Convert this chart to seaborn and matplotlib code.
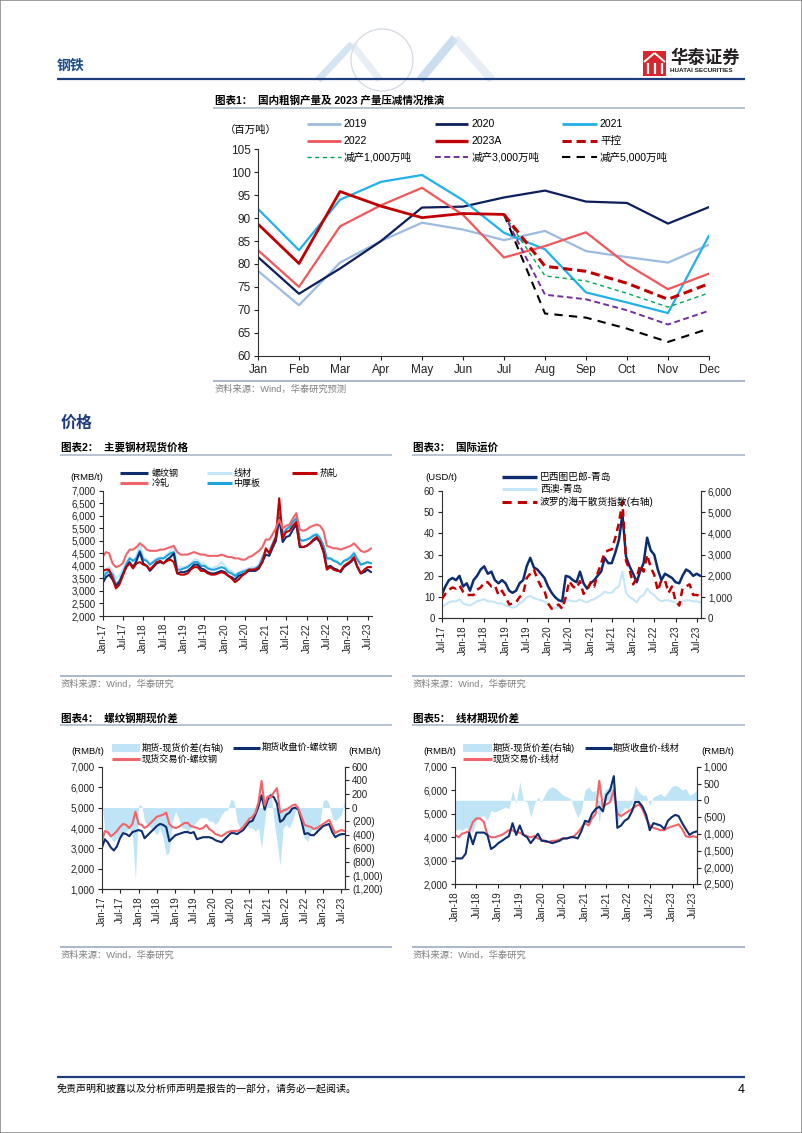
import numpy as np
import pandas as pd
import matplotlib
matplotlib.use('Agg')
import matplotlib.pyplot as plt
import matplotlib.dates as mdates
from matplotlib.lines import Line2D
from matplotlib.patches import Rectangle, Ellipse
from matplotlib.ticker import FuncFormatter, MultipleLocator
import seaborn as sns

sns.set_theme(style='white')
plt.rcParams['font.family'] = ['Liberation Sans', 'Noto Sans CJK SC', 'DejaVu Sans']
plt.rcParams['axes.unicode_minus'] = False

# ---------------- DATA ----------------
# Chart 1: crude steel output (million t)
months = ['Jan', 'Feb', 'Mar', 'Apr', 'May', 'Jun', 'Jul', 'Aug', 'Sep', 'Oct', 'Nov', 'Dec']
y2019 = [78.5, 71.0, 80.3, 85.0, 89.0, 87.5, 85.2, 87.2, 82.8, 81.5, 80.3, 84.2]
y2020 = [81.5, 73.5, 79.0, 85.0, 92.3, 92.5, 94.5, 96.0, 93.6, 93.3, 88.8, 92.4]
y2021 = [92.0, 83.0, 94.0, 97.9, 99.4, 93.9, 86.8, 83.2, 73.8, 71.6, 69.3, 86.2]
y2022 = [83.0, 75.0, 88.2, 92.8, 96.6, 90.7, 81.4, 83.9, 86.9, 79.9, 74.5, 77.9]
y2023A = [88.7, 80.1, 95.8, 92.6, 90.1, 91.0, 90.8]
proj_months = ['Jul', 'Aug', 'Sep', 'Oct', 'Nov', 'Dec']
flat_ctrl = [90.8, 79.5, 78.4, 75.8, 72.3, 75.7]
cut_1000 = [90.8, 77.4, 76.3, 73.6, 70.6, 73.7]
cut_3000 = [90.8, 73.3, 72.3, 69.9, 66.8, 69.8]
cut_5000 = [90.8, 69.2, 68.3, 65.9, 63.0, 65.9]

# Chart 2: spot prices, monthly Jan-17 .. Aug-23 (RMB/t)
c2_start = '2017-01-01'
rebar = [3300, 3550, 3650, 3450, 3200, 3350, 3650, 3950, 4150, 3950, 4200, 4550,
         4100, 4000, 3800, 3950, 4100, 4150, 4100, 4250, 4350, 4500, 3700, 3750,
         3750, 3800, 3900, 4050, 4050, 3900, 3850, 3750, 3700, 3700, 3750, 3800,
         3750, 3600, 3550, 3450, 3600, 3650, 3700, 3800, 3800, 3800, 3900, 4150,
         4450, 4400, 4700, 5000, 5900, 4950, 5150, 5200, 5450, 5650, 4750, 4750,
         4800, 4900, 5000, 5100, 4950, 4600, 3950, 4000, 3900, 3850, 3750, 3950,
         4050, 4150, 4300, 3950, 3700, 3750, 3850, 3750]
wire = [3600, 3850, 3950, 3800, 3500, 3600, 3850, 4150, 4350, 4200, 4400, 4900,
        4350, 4250, 4050, 4200, 4300, 4350, 4300, 4450, 4600, 4800, 4000, 3950,
        3950, 4000, 4100, 4250, 4250, 4100, 4100, 3950, 3900, 3950, 4000, 4150,
        4000, 3850, 3800, 3650, 3750, 3800, 3850, 3900, 3950, 3950, 4050, 4350,
        4650, 4600, 4900, 5200, 6000, 5300, 5500, 5600, 5850, 6100, 5000, 5000,
        5050, 5150, 5250, 5300, 5150, 4800, 4250, 4300, 4250, 4200, 4050, 4200,
        4300, 4400, 4550, 4250, 4050, 4050, 4150, 4100]
hot_rolled = [3800, 3850, 3850, 3500, 3100, 3250, 3600, 3950, 4100, 3900, 4100, 4150,
              4050, 4000, 3850, 4000, 4150, 4200, 4100, 4200, 4250, 4150, 3700, 3650,
              3650, 3700, 3850, 3950, 3950, 3800, 3800, 3700, 3650, 3650, 3700, 3750,
              3700, 3600, 3500, 3350, 3450, 3600, 3700, 3850, 3850, 3850, 3950, 4150,
              4700, 4500, 4800, 5150, 6700, 5100, 5350, 5400, 5600, 5750, 4800, 4750,
              4800, 4900, 5050, 5150, 4950, 4550, 3850, 3950, 3850, 3800, 3800, 4000,
              4100, 4200, 4350, 3950, 3700, 3850, 3950, 3950]
plate = [3500, 3700, 3800, 3650, 3250, 3400, 3700, 4050, 4300, 4200, 4300, 4600,
         4250, 4200, 4050, 4150, 4250, 4300, 4300, 4400, 4500, 4550, 3850, 3850,
         3900, 3950, 4050, 4150, 4150, 4000, 4000, 3900, 3850, 3850, 3900, 3950,
         3900, 3750, 3700, 3600, 3700, 3750, 3800, 3850, 3850, 3900, 4000, 4300,
         4600, 4550, 4850, 5150, 6100, 5200, 5450, 5550, 5750, 5900, 5050, 5000,
         5050, 5100, 5200, 5250, 5100, 4800, 4300, 4300, 4200, 4150, 4050, 4200,
         4250, 4350, 4500, 4250, 4050, 4100, 4150, 4100]
cold_rolled = [4350, 4550, 4500, 4100, 3950, 4000, 4100, 4450, 4650, 4650, 4750, 4900,
               4800, 4650, 4600, 4600, 4600, 4650, 4650, 4700, 4750, 4800, 4550, 4450,
               4450, 4450, 4500, 4550, 4500, 4450, 4450, 4400, 4400, 4400, 4400, 4450,
               4400, 4350, 4350, 4300, 4300, 4250, 4250, 4350, 4400, 4500, 4600, 4750,
               5050, 5050, 5250, 5500, 5850, 5500, 5600, 5650, 5900, 6100, 5450, 5400,
               5450, 5550, 5600, 5650, 5600, 5400, 4800, 4750, 4700, 4700, 4650, 4700,
               4750, 4800, 4900, 4750, 4600, 4550, 4600, 4700]

# Chart 3: freight, monthly Jul-17 .. Aug-23
c3_start = '2017-07-01'
brazil_qd = [11, 15, 18, 19, 18, 20,
             15, 16.5, 13, 18, 20, 23, 24.5, 21, 22, 18, 16.5, 18,
             16.5, 13, 12, 13, 16.5, 18, 24.5, 28.5, 24, 23, 21, 19,
             15, 12, 10, 8.5, 8, 20, 19.5, 18, 17, 22, 16.5, 14,
             16.5, 18, 20, 22, 28.5, 26, 26, 31, 37, 49, 29, 24.5,
             21, 17, 22, 26, 38, 32, 30, 23, 18, 21, 20, 19,
             17, 16.5, 20, 23, 22, 20, 21, 20]
waus_qd = [5, 6.5, 7.5, 8, 8, 9,
           7, 6.5, 6, 7, 8, 8.5, 9, 8, 8, 7.5, 7, 7,
           6, 5.5, 5, 5.5, 7, 8, 10, 10.5, 9.5, 9, 8.5, 8,
           6.5, 5.5, 5, 5, 5.5, 8, 8.5, 8, 8, 9, 8, 7.5,
           8.5, 9, 10, 11, 12.5, 12, 12, 14, 15, 22, 12, 10,
           9, 7.5, 10, 11, 14, 12, 11, 9, 8, 8.5, 8.5, 8,
           7.5, 7, 8, 8.5, 8.5, 8, 8, 7.5]
bdi = [900, 1150, 1350, 1450, 1400, 1550,
       1250, 1100, 1100, 1100, 1350, 1450, 1700, 1700, 1500, 1550, 1100, 1300,
       1000, 650, 700, 750, 1000, 1150, 1900, 2100, 2300, 1850, 1500, 1300,
       700, 450, 550, 650, 450, 1000, 1750, 1500, 1400, 1750, 1150, 1300,
       1700, 1500, 2100, 2600, 3100, 3200, 3250, 3800, 4500, 5500, 2700, 2300,
       1600, 1900, 2500, 2200, 3000, 2400, 2050, 1300, 1800, 1800, 1200, 1500,
       800, 600, 1400, 1500, 1600, 1100, 1100, 1050]

# Chart 4: rebar basis, monthly Jan-17 .. Aug-23
c4_start = '2017-01-01'
rebar_spot = [3300, 3850, 3800, 3600, 3700, 3850, 4050, 4200, 4150, 4000, 4200, 4800,
              4200, 4150, 4000, 4100, 4250, 4400, 4550, 4600, 4650, 4750, 4200, 4050,
              4000, 4050, 4150, 4250, 4250, 4100, 4050, 4000, 3950, 4000, 4150, 3950,
              3850, 3700, 3650, 3600, 3700, 3800, 3850, 3850, 3850, 3900, 4050, 4250,
              4450, 4550, 4750, 5250, 6300, 5100, 5550, 5500, 5750, 5950, 4750, 4850,
              4900, 5000, 5100, 5150, 4950, 4550, 4150, 4100, 4050, 3950, 4000, 4100,
              4200, 4300, 4400, 4050, 3750, 3850, 3900, 3850]
rebar_fut = [3000, 3450, 3300, 3050, 2900, 3100, 3500, 3750, 3700, 3600, 3800, 3850,
             3900, 3850, 3500, 3650, 3800, 3950, 4100, 4200, 4150, 4050, 3350, 3500,
             3650, 3700, 3750, 3800, 3800, 3750, 3800, 3450, 3500, 3550, 3550, 3550,
             3500, 3400, 3350, 3300, 3450, 3600, 3750, 3750, 3700, 3800, 3900, 4100,
             4300, 4350, 4650, 5050, 5600, 4900, 5400, 5600, 5500, 5200, 4300, 4400,
             4650, 4750, 4950, 5000, 4900, 4350, 3700, 3750, 3650, 3650, 3800, 3950,
             4100, 4150, 4200, 3800, 3550, 3650, 3700, 3700]
rebar_basis = [150, -350, -400, -450, -500, -450, -400, -350, -350, -300, -400, -1050,
               40, 30, -200, -250, -300, -350, -400, -300, -450, -700, -650, -200,
               -50, -150, -300, -300, -350, -300, -250, -200, -150, -150, -150, -200,
               -200, -250, -200, -100, -50, -30, 120, 100, -200, -300, -350, -250,
               -300, -300, -350, -300, -600, -200, 150, 250, -200, -500, -850, -300,
               -250, -300, -200, -50, 50, -300, -450, -500, -350, -300, -400, -200,
               100, 120, 50, -150, -200, -150, -100, 100]

# Chart 5: wire rod basis, monthly Jan-18 .. Aug-23
c5_start = '2018-01-01'
wire_fut = [3100, 3100, 3100, 3300, 4200, 3700, 4200, 4200, 4200, 4100, 3500, 3600,
            3750, 3850, 3950, 4050, 4600, 4100, 4500, 4100, 4000, 3750, 3950, 4150,
            3850, 3850, 3800, 3750, 3800, 3850, 3950, 3950, 4000, 4000, 3950, 4250,
            4700, 4650, 5000, 5200, 5300, 5100, 5800, 6000, 6600, 4400, 4500, 4700,
            4800, 5100, 5500, 5500, 5300, 4950, 4300, 4600, 4550, 4500, 4350, 4700,
            4850, 4950, 4900, 4600, 4350, 4100, 4200, 4250]
wire_spot = [4100, 4000, 4150, 4200, 4250, 4650, 4800, 4800, 4650, 4100, 4000, 4000,
             4050, 4100, 4200, 4300, 4300, 4200, 4200, 4100, 4050, 4000, 4050, 3950,
             3900, 3800, 3800, 3850, 3850, 3900, 3950, 3950, 4000, 4050, 4200, 4400,
             4600, 4500, 4800, 5000, 6400, 5300, 5400, 5500, 6000, 5000, 4900, 5000,
             5100, 5200, 5300, 5400, 5200, 4800, 4500, 4400, 4350, 4300, 4300, 4400,
             4450, 4500, 4550, 4350, 4050, 4000, 4050, 4000]
wire_basis = [-900, -850, -900, -800, -900, -950, -600, -500, -450, -600, -300, -350,
              -300, -250, -200, -250, 300, -100, 550, 0, -50, -500, -100, 100,
              -50, 200, 350, 400, 350, 250, 150, 100, 50, -250, -500, -300,
              300, 400, 250, 300, -700, 200, 350, 400, 450, -700, -400, -200,
              -250, -100, 450, 250, 150, 150, -150, 100, 150, 200, 100, 250,
              400, 450, 400, 300, 350, 150, 200, 300]

# ---------------- COLORS ----------------
C19, C20, C21, C22, C23 = '#9dbbe0', '#0c1f5c', '#22b0e8', '#f0575a', '#c00000'
NAVY, LIGHT, DRED, SALMON, CYAN = '#0e2d6e', '#c4e6f7', '#c00000', '#f0646a', '#1fa3dc'
BASIS = '#bfe4f6'
GRAYTXT = '#7f7f7f'
RULE = '#aab8cc'

W, H = 802, 1133
fig = plt.figure(figsize=(W / 100, H / 100), dpi=100)
fig.patch.set_facecolor('white')


def fx(x):
    return x / W


def fy(y):
    return 1 - y / H


def box(x0, y0, x1, y1):
    return [fx(x0), fy(y1), (x1 - x0) / W, (y1 - y0) / H]


def ftext(x, y, s, size, color='black', weight='normal', ha='left', va='center', **kw):
    fig.text(fx(x), fy(y), s, fontsize=size, color=color, fontweight=weight, ha=ha, va=va, **kw)


def fline(x0, x1, y0, y1=None, color='k', lw=1.0, ls='-', alpha=1.0):
    if y1 is None:
        y1 = y0
    fig.add_artist(Line2D([fx(x0), fx(x1)], [fy(y0), fy(y1)], color=color, lw=lw, linestyle=ls,
                          alpha=alpha, solid_capstyle='butt', dash_capstyle='butt'))


def leg_line(x0, x1, y, color, lw, ls, label, tx, size):
    fline(x0, x1, y, color=color, lw=lw, ls=ls)
    ftext(tx, y, label, size)


def leg_patch(x0, x1, y, h, color, label, tx, size):
    fig.add_artist(Rectangle((fx(x0), fy(y + h / 2)), (x1 - x0) / W, h / H,
                             transform=fig.transFigure, facecolor=color, edgecolor='none'))
    ftext(tx, y, label, size)


def paren_fmt(v, p):
    if v < 0:
        return f'({abs(v):,.0f})'
    return f'{v:,.0f}'


def style_ax(ax, right=False, size=7):
    ax.spines['top'].set_visible(False)
    ax.spines['right'].set_visible(right)
    for s in ['left', 'bottom', 'right']:
        ax.spines[s].set_color('#333333')
        ax.spines[s].set_linewidth(0.8)
    ax.tick_params(axis='both', which='both', direction='out', length=3, width=0.8,
                   labelsize=size, pad=2, colors='#222222', left=True, bottom=True)
    ax.set_xlabel('')
    ax.set_ylabel('')


def date_axis(ax, start, end):
    ax.set_xlim(pd.Timestamp(start), pd.Timestamp(end))
    ax.xaxis.set_major_locator(mdates.MonthLocator(bymonth=[1, 7]))
    ax.xaxis.set_major_formatter(mdates.DateFormatter('%b-%y'))
    for lab in ax.get_xticklabels():
        lab.set_rotation(90)


# ---------------- PAGE HEADER ----------------
fig.add_artist(Rectangle((0, 0), 1, 1, transform=fig.transFigure, fill=False, edgecolor='#8c8c8c', lw=1.2))
# faint watermark
fig.add_artist(Ellipse((fx(382), fy(60)), 62 / W, 62 / H, transform=fig.transFigure, fill=False,
                       edgecolor='#d3dae3', lw=0.9))
fline(318, 352, 80, 44, color='#b9d3ea', lw=5, alpha=0.6)
fline(352, 380, 44, 80, color='#d8e4ef', lw=5, alpha=0.6)
fline(420, 455, 80, 38, color='#a9c8e6', lw=6, alpha=0.6)
fline(455, 492, 38, 80, color='#d8e4ef', lw=6, alpha=0.6)

ftext(57, 66, '钢铁', 10, color='#1f4e8c', weight='bold')
fig.add_artist(Rectangle((fx(643), fy(76)), 23 / W, 25 / H, transform=fig.transFigure,
                         facecolor='#d9262c', edgecolor='none'))
for xx in (647.5, 654.5, 661.5):
    fline(xx, xx, 63, 74, color='white', lw=1.6)
fline(644, 654.5, 62, 53, color='white', lw=1.4)
fline(654.5, 665, 53, 62, color='white', lw=1.4)
ftext(670, 57, '华泰证券', 12.5, color='#231f20', weight='bold')
ftext(670, 71, 'HUATAI SECURITIES', 4.6, color='#231f20', weight='bold')
fline(57, 745, 79, color='#1f3d7a', lw=1.6)

# ---------------- CHART 1 ----------------
ftext(215, 101, '图表1：  国内粗钢产量及 2023 产量压减情况推演', 7.6, weight='bold')
fline(213, 745, 108.3, color=RULE, lw=1.2)
ftext(225, 130, '（百万吨）', 7.5)

ax1 = fig.add_axes(box(258, 149.3, 709, 355.7))
xi = np.arange(len(months))
xp = np.arange(6, 12)
sns.lineplot(x=xi, y=y2019, ax=ax1, color=C19, lw=1.6)
sns.lineplot(x=xi, y=y2020, ax=ax1, color=C20, lw=1.6)
sns.lineplot(x=xi, y=y2021, ax=ax1, color=C21, lw=1.6)
sns.lineplot(x=xi, y=y2022, ax=ax1, color=C22, lw=1.6)
sns.lineplot(x=xp, y=cut_5000, ax=ax1, color='black', lw=1.5, linestyle=(0, (4, 3)))
sns.lineplot(x=xp, y=cut_3000, ax=ax1, color='#7030a0', lw=1.4, linestyle=(0, (3, 1.8)))
sns.lineplot(x=xp, y=cut_1000, ax=ax1, color='#00a651', lw=1.0, linestyle=(0, (3, 2.5)))
sns.lineplot(x=xp, y=flat_ctrl, ax=ax1, color=C23, lw=2.2, linestyle=(0, (3, 1.6)))
sns.lineplot(x=np.arange(len(y2023A)), y=y2023A, ax=ax1, color=C23, lw=2.0)
ax1.set_xlim(0, 11)
ax1.set_ylim(60, 105)
ax1.yaxis.set_major_locator(MultipleLocator(5))
ax1.set_xticks(xi)
ax1.set_xticklabels(months)
style_ax(ax1, size=8.5)
ax1.tick_params(axis='x', pad=3)

r1, r2, r3 = 124.3, 141, 157.3
cols = [(307.3, 340.7, 344), (435, 468.3, 472), (561.7, 596.7, 600)]
leg_line(*cols[0][:2], r1, C19, 2.0, '-', '2019', cols[0][2], 7.6)
leg_line(*cols[1][:2], r1, C20, 2.0, '-', '2020', cols[1][2], 7.6)
leg_line(*cols[2][:2], r1, C21, 2.0, '-', '2021', cols[2][2], 7.6)
leg_line(*cols[0][:2], r2, C22, 2.0, '-', '2022', cols[0][2], 7.6)
leg_line(*cols[1][:2], r2, C23, 2.4, '-', '2023A', cols[1][2], 7.6)
leg_line(*cols[2][:2], r2, C23, 2.2, (0, (3, 1.6)), '平控', cols[2][2], 7.6)
leg_line(*cols[0][:2], r3, '#00a651', 1.0, (0, (3, 2.5)), '减产1,000万吨', cols[0][2], 7.6)
leg_line(*cols[1][:2], r3, '#7030a0', 1.4, (0, (3, 1.8)), '减产3,000万吨', cols[1][2], 7.6)
leg_line(*cols[2][:2], r3, 'black', 1.5, (0, (4, 3)), '减产5,000万吨', cols[2][2], 7.6)

fline(213, 745, 380.7, color=RULE, lw=1.4)
ftext(215, 389, '资料来源：Wind，华泰研究预测', 6.7, color=GRAYTXT)

# ---------------- SECTION HEADER ----------------
ftext(61, 423.3, '价格', 11.5, color='#1f3d7a', weight='bold')

# ---------------- CHART 2 ----------------
ftext(60.7, 447.7, '图表2：  主要钢材现货价格', 7.6, weight='bold')
fline(60, 392, 454.5, color=RULE, lw=1.2)
ftext(70, 477.7, '(RMB/t)', 6.8)

d2 = pd.date_range(c2_start, periods=len(rebar), freq='MS')
ax2 = fig.add_axes(box(102.5, 490.7, 372, 616))
sns.lineplot(x=d2, y=wire, ax=ax2, color=LIGHT, lw=1.5)
sns.lineplot(x=d2, y=plate, ax=ax2, color=CYAN, lw=1.5)
sns.lineplot(x=d2, y=rebar, ax=ax2, color=NAVY, lw=1.5)
sns.lineplot(x=d2, y=hot_rolled, ax=ax2, color=DRED, lw=1.5)
sns.lineplot(x=d2, y=cold_rolled, ax=ax2, color=SALMON, lw=1.5)
ax2.set_ylim(2000, 7000)
ax2.yaxis.set_major_locator(MultipleLocator(500))
ax2.yaxis.set_major_formatter(FuncFormatter(paren_fmt))
style_ax(ax2, size=7)
date_axis(ax2, '2017-01-01', '2023-08-09')

leg_line(120, 148, 473.3, NAVY, 2.2, '-', '螺纹钢', 151.7, 6.5)
leg_line(206.7, 231.7, 473.3, LIGHT, 2.2, '-', '线材', 233.3, 6.5)
leg_line(291.7, 316.7, 473.3, DRED, 2.2, '-', '热轧', 320, 6.5)
leg_line(120, 148, 483.3, SALMON, 2.2, '-', '冷轧', 151.7, 6.5)
leg_line(206.7, 231.7, 483.3, CYAN, 2.2, '-', '中厚板', 233.3, 6.5)

fline(60, 392, 676, color=RULE, lw=1.4)
ftext(60.7, 684, '资料来源：Wind，华泰研究', 6.7, color=GRAYTXT)

# ---------------- CHART 3 ----------------
ftext(412.7, 447.3, '图表3：  国际运价', 7.6, weight='bold')
fline(412, 745, 454.5, color=RULE, lw=1.2)
ftext(425, 477.7, '(USD/t)', 6.8)

d3 = pd.date_range(c3_start, periods=len(brazil_qd), freq='MS')
ax3 = fig.add_axes(box(441.7, 491, 701, 618.3))
sns.lineplot(x=d3, y=waus_qd, ax=ax3, color=LIGHT, lw=1.5)
sns.lineplot(x=d3, y=brazil_qd, ax=ax3, color=NAVY, lw=1.8)
ax3.set_ylim(0, 60)
ax3.yaxis.set_major_locator(MultipleLocator(10))
style_ax(ax3, right=True, size=7)
ax3r = ax3.twinx()
sns.lineplot(x=d3, y=bdi, ax=ax3r, color=DRED, lw=1.8, linestyle=(0, (3, 2)))
ax3r.set_ylim(0, 6000)
ax3r.yaxis.set_major_locator(MultipleLocator(1000))
ax3r.yaxis.set_major_formatter(FuncFormatter(paren_fmt))
style_ax(ax3r, right=True, size=7)
ax3r.spines['left'].set_visible(False)
ax3r.tick_params(right=True, left=False)
date_axis(ax3, '2017-07-01', '2023-08-07')

leg_line(501.7, 536.7, 476.7, NAVY, 2.4, '-', '巴西图巴郎-青岛', 540, 7)
leg_line(501.7, 536.7, 489.3, LIGHT, 2.2, '-', '西澳-青岛', 540, 7)
leg_line(501.7, 536.7, 501.7, DRED, 2.2, (0, (3, 2)), '波罗的海干散货指数(右轴)', 540, 7)

fline(412, 745, 676, color=RULE, lw=1.4)
ftext(412.7, 684, '资料来源：Wind，华泰研究', 6.7, color=GRAYTXT)

# ---------------- CHART 4 ----------------
ftext(60.7, 718.3, '图表4：  螺纹钢期现价差', 7.6, weight='bold')
fline(60, 392, 725, color=RULE, lw=1.2)
ftext(71.7, 751.7, '(RMB/t)', 6.8)
ftext(348, 751.7, '(RMB/t)', 6.8)

d4 = pd.date_range(c4_start, periods=len(rebar_spot), freq='MS')
ax4 = fig.add_axes(box(101.7, 766.7, 345, 889.3))
ax4r = ax4.twinx()
ax4r.fill_between(d4, 0, rebar_basis, color=BASIS, lw=0)
ax4r.set_ylim(-1200, 600)
ax4r.yaxis.set_major_locator(MultipleLocator(200))
ax4r.yaxis.set_major_formatter(FuncFormatter(paren_fmt))
sns.lineplot(x=d4, y=rebar_fut, ax=ax4, color=NAVY, lw=1.5)
sns.lineplot(x=d4, y=rebar_spot, ax=ax4, color=SALMON, lw=1.5)
ax4.set_ylim(1000, 7000)
ax4.yaxis.set_major_locator(MultipleLocator(1000))
ax4.yaxis.set_major_formatter(FuncFormatter(paren_fmt))
ax4.set_zorder(ax4r.get_zorder() + 1)
ax4.patch.set_visible(False)
style_ax(ax4, right=True, size=7)
style_ax(ax4r, right=True, size=7)
ax4r.spines['left'].set_visible(False)
ax4r.tick_params(right=True, left=False)
date_axis(ax4, '2017-01-01', '2023-08-05')

leg_patch(111.7, 140, 747.7, 8, BASIS, '期货-现货价差(右轴)', 141.7, 6.6)
leg_line(233, 260, 747.7, NAVY, 2.2, '-', '期货收盘价-螺纹钢', 261.7, 6.6)
leg_line(111.7, 140, 759.3, SALMON, 2.2, '-', '现货交易价-螺纹钢', 141.7, 6.6)

fline(60, 392, 946.7, color=RULE, lw=1.4)
ftext(60.7, 955, '资料来源：Wind，华泰研究', 6.7, color=GRAYTXT)

# ---------------- CHART 5 ----------------
ftext(412.7, 718.3, '图表5：  线材期现价差', 7.6, weight='bold')
fline(412, 745, 725, color=RULE, lw=1.2)
ftext(423.3, 751.7, '(RMB/t)', 6.8)
ftext(701.7, 751.7, '(RMB/t)', 6.8)

d5 = pd.date_range(c5_start, periods=len(wire_fut), freq='MS')
ax5 = fig.add_axes(box(455, 766.7, 696.7, 884.3))
ax5r = ax5.twinx()
ax5r.fill_between(d5, 0, wire_basis, color=BASIS, lw=0)
ax5r.set_ylim(-2500, 1000)
ax5r.yaxis.set_major_locator(MultipleLocator(500))
ax5r.yaxis.set_major_formatter(FuncFormatter(paren_fmt))
sns.lineplot(x=d5, y=wire_spot, ax=ax5, color=SALMON, lw=1.5)
sns.lineplot(x=d5, y=wire_fut, ax=ax5, color=NAVY, lw=1.5)
ax5.set_ylim(2000, 7000)
ax5.yaxis.set_major_locator(MultipleLocator(1000))
ax5.yaxis.set_major_formatter(FuncFormatter(paren_fmt))
ax5.set_zorder(ax5r.get_zorder() + 1)
ax5.patch.set_visible(False)
style_ax(ax5, right=True, size=7)
style_ax(ax5r, right=True, size=7)
ax5r.spines['left'].set_visible(False)
ax5r.tick_params(right=True, left=False)
date_axis(ax5, '2018-01-01', '2023-08-01')

leg_patch(463.3, 491.7, 748.3, 8, BASIS, '期货-现货价差(右轴)', 493, 6.6)
leg_line(585, 611.7, 748.3, NAVY, 2.2, '-', '期货收盘价-线材', 613, 6.6)
leg_line(463.3, 491.7, 759.3, SALMON, 2.2, '-', '现货交易价-线材', 493, 6.6)

fline(412, 745, 946.7, color=RULE, lw=1.4)
ftext(412.7, 955, '资料来源：Wind，华泰研究', 6.7, color=GRAYTXT)

# ---------------- FOOTER ----------------
fline(57, 745, 1077, color='#1f3d7a', lw=1.6)
ftext(57, 1090, '免责声明和披露以及分析师声明是报告的一部分，请务必一起阅读。', 7.2, style='italic')
ftext(745, 1090, '4', 9, ha='right')

fig.savefig('out.png', dpi=100, facecolor='white')
